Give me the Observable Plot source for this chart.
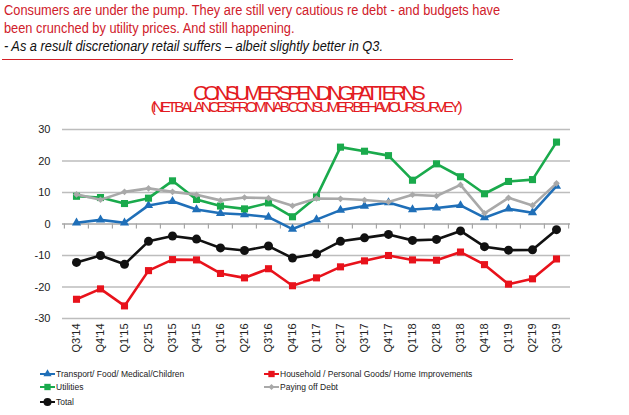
<!DOCTYPE html>
<html><head><meta charset="utf-8">
<script src="https://cdn.jsdelivr.net/npm/d3@7"></script>
<script src="https://cdn.jsdelivr.net/npm/@observablehq/plot@0.6"></script>
<style>
body{margin:0;background:#fff;font-family:"Liberation Sans",Arial,sans-serif;}
#wrap{position:relative;width:629px;height:415px;overflow:hidden;background:#fff;}
.hl{position:absolute;left:4px;white-space:nowrap;font-size:14px;line-height:14px;color:#d0202a;transform-origin:0 0;transform:scaleX(0.915);}
.hl.it{color:#111;font-style:italic;}
#rule{position:absolute;left:2px;top:58.5px;width:511px;height:1.5px;background:#d42027;}
.ttl{position:absolute;left:0;width:614px;text-align:center;white-space:nowrap;color:#e31b23;}
#t1{top:84.2px;font-size:21px;line-height:17px;letter-spacing:-4.8px;}
#t2{top:101.4px;width:610px;font-size:15.4px;line-height:12px;letter-spacing:-3.25px;}
#chart{position:absolute;left:0;top:118px;}
.lg{position:absolute;font-size:8.5px;line-height:10px;color:#222;white-space:nowrap;display:flex;align-items:center;}
.lg svg{margin-right:1px;}
</style>
</head><body>
<div id="wrap">
  <div class="hl" style="top:3px">Consumers are under the pump. They are still very cautious re debt - and budgets have</div>
  <div class="hl" style="top:21px">been crunched by utility prices. And still happening.</div>
  <div class="hl it" style="top:39px">- As a result discretionary retail suffers – albeit slightly better in Q3.</div>
  <div id="rule"></div>
  <div class="ttl" id="t1">CONSUMER SPENDING PATTERNS</div>
  <div class="ttl" id="t2">(NET BALANCES FROM NAB CONSUMER BEHAVIOUR SURVEY)</div>
  <div id="chart"></div>
  <div id="legend"></div>
</div>
<script>
const quarters = ["Q3'14","Q4'14","Q1'15","Q2'15","Q3'15","Q4'15","Q1'16","Q2'16","Q3'16","Q4'16","Q1'17","Q2'17","Q3'17","Q4'17","Q1'18","Q2'18","Q3'18","Q4'18","Q1'19","Q2'19","Q3'19"];
const transport = [0.4,1.3,0.4,5.9,7.2,4.6,3.4,3.0,2.2,-1.6,1.4,4.4,5.7,6.8,4.6,5.1,5.9,2.0,4.8,3.6,12.0];
const household = [-23.9,-20.6,-26.0,-14.8,-11.3,-11.4,-15.7,-17.1,-14.2,-19.6,-17.1,-13.6,-11.7,-10.0,-11.4,-11.5,-8.9,-12.9,-19.1,-17.4,-11.1];
const utilities = [8.8,8.4,6.5,8.2,13.7,7.8,5.7,4.8,6.7,2.3,8.6,24.4,23.1,21.7,13.9,19.1,15.0,9.6,13.5,14.1,26.0];
const payingDebt = [9.4,7.7,10.2,11.3,10.2,9.3,7.5,8.4,8.2,5.8,8.1,8.0,7.6,7.0,9.3,8.9,12.4,3.4,8.3,5.9,12.9];
const total = [-12.2,-10.0,-12.8,-5.5,-3.8,-4.8,-7.6,-8.4,-7.0,-10.8,-9.5,-5.5,-4.4,-3.3,-5.2,-4.9,-2.2,-7.2,-8.3,-8.2,-1.8];
const yTicks = [-30,-20,-10,0,10,20,30];

const seriesNames = ["Transport/ Food/ Medical/Children","Household / Personal Goods/ Home Improvements","Utilities","Paying off Debt","Total"];
const seriesValues = [transport, household, utilities, payingDebt, total];
const seriesColors = ["#1f6fb8","#e8121b","#1aaa4c","#a9a9a9","#111111"];
const seriesSymbols = ["triangle","square","square","diamond2","circle"];
const seriesR = [3.4,4,4,3,4.5];

const W = 629, ML = 62, MR = 59;
const bw = (W - ML - MR) / quarters.length;

const marks = [
  Plot.ruleY(yTicks.filter(d => d !== 0), {stroke:"#bdbdbd", strokeWidth:1.4}),
  Plot.ruleY([0], {stroke:"#a6a6a6", strokeWidth:1.4}),
  Plot.ruleX(quarters, {x: d => d, y1: 0, y2: -1.6, dx: -bw/2, stroke:"#a6a6a6", strokeWidth:1.2}),
  Plot.ruleX(quarters.slice(-1), {x: d => d, y1: 0, y2: -1.6, dx: bw/2, stroke:"#a6a6a6", strokeWidth:1.2}),
  Plot.axisY(yTicks, {tickSize:0, tickPadding:12, tickFormat: d => String(d), label:null, fontSize:11}),
  Plot.axisX({tickRotate:-90, tickSize:0, tickPadding:5, label:null, fontSize:11})
];
seriesNames.forEach((name, k) => {
  const rows = quarters.map((q, i) => ({q, v: seriesValues[k][i]}));
  marks.push(Plot.lineY(rows, {x:"q", y:"v", stroke: seriesColors[k], strokeWidth: 2.6}));
  marks.push(Plot.dot(rows, {x:"q", y:"v", symbol: seriesSymbols[k], r: seriesR[k], fill: seriesColors[k], stroke: "none"}));
});

const chart = Plot.plot({
  width: W, height: 240,
  marginTop: 11, marginBottom: 40, marginLeft: ML, marginRight: MR,
  style: {fontFamily: "Liberation Sans, Arial, sans-serif", fontSize: "11px", color: "#222", background: "#fff"},
  x: {type: "band", domain: quarters, padding: 0},
  y: {domain: [-30, 30]},
  marks
});
document.getElementById("chart").appendChild(chart);

// legend
const legendPos = [[40,368.5],[264,368.5],[40,382],[264,382],[40,396.5]];
const legend = document.getElementById("legend");
seriesNames.forEach((name, k) => {
  const [lx, ly] = legendPos[k];
  const div = document.createElement("div");
  div.className = "lg";
  div.style.left = lx + "px";
  div.style.top = ly + "px";
  const sym = d3.symbol().type({triangle: d3.symbolTriangle, square: d3.symbolSquare, diamond2: d3.symbolDiamond2, circle: d3.symbolCircle}[seriesSymbols[k]]).size(seriesR[k]*seriesR[k]*Math.PI*0.8)();
  div.innerHTML = `<svg width="15" height="10"><line x1="0" x2="15" y1="5" y2="5" stroke="${seriesColors[k]}" stroke-width="2"/><path d="${sym}" transform="translate(7.5,5)" fill="${seriesColors[k]}"/></svg><span>${name}</span>`;
  legend.appendChild(div);
});
</script>
</body></html>
